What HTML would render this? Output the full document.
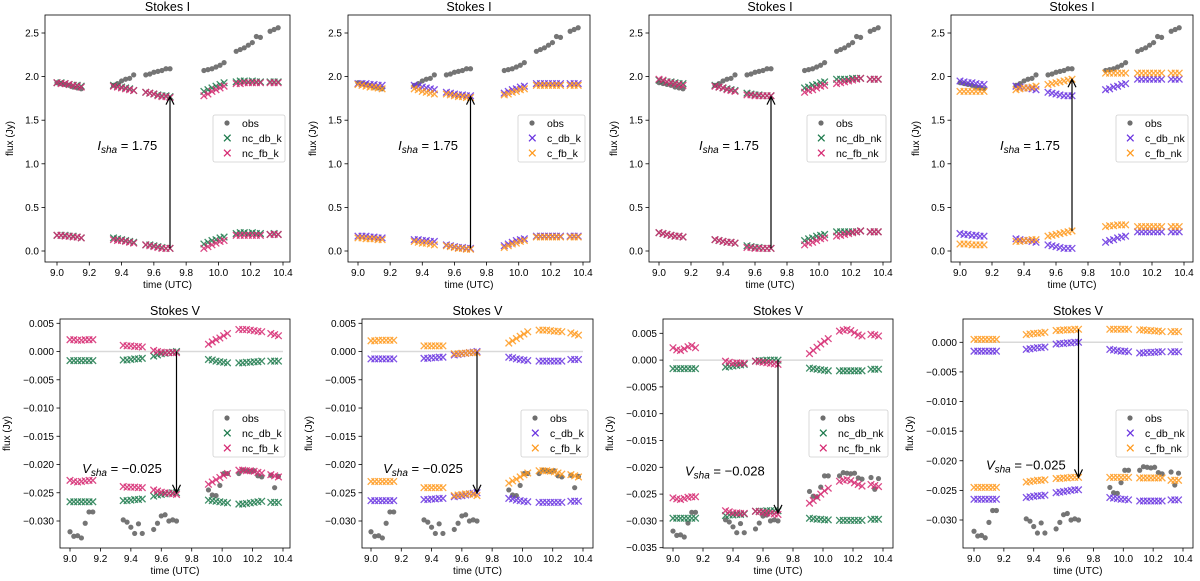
<!DOCTYPE html>
<html><head><meta charset="utf-8"><style>
html,body{margin:0;padding:0;background:#fff;}
svg{display:block;font-family:"Liberation Sans","DejaVu Sans",sans-serif;}
</style></head><body>
<svg id="fig" width="1200" height="581" viewBox="0 0 1200 581" xmlns="http://www.w3.org/2000/svg"></svg>
<script>
const times = [9.00,9.025,9.05,9.075,9.10,9.125,9.15, 9.35,9.375,9.40,9.425,9.45,9.475, 9.55,9.575,9.60,9.625,9.65,9.675,9.70, 9.91,9.935,9.96,9.985,10.01,10.035, 10.11,10.135,10.16,10.185,10.21,10.235,10.26, 10.32,10.345,10.37];
const obsI = [1.93,1.92,1.91,1.90,1.88,1.87,1.86, 1.90,1.92,1.95,1.97,1.98,2.02, 2.02,2.03,2.05,2.06,2.07,2.09,2.09, 2.07,2.08,2.09,2.11,2.13,2.16, 2.29,2.31,2.33,2.36,2.39,2.46,2.45, 2.52,2.54,2.56];
const obsV = [-0.0319,-0.0327,-0.0326,-0.0330,-0.0304,-0.0284,-0.0284, -0.0298,-0.0302,-0.0311,-0.0322,-0.0305,-0.0322, -0.0315,-0.0304,-0.0291,-0.0289,-0.0300,-0.0298,-0.0300, -0.0245,-0.0254,-0.0255,-0.0237,-0.0216,-0.0216, -0.0216,-0.0210,-0.0211,-0.0212,-0.0211,-0.0220,-0.0222, -0.0219,-0.0241,-0.0221];

const p1_db_hi = [1.93,1.93,1.92,1.91,1.90,1.90,1.89, 1.90,1.89,1.88,1.87,1.86,1.84, 1.82,1.81,1.80,1.79,1.78,1.78,1.77, 1.83,1.85,1.87,1.89,1.91,1.93, 1.94,1.95,1.95,1.94,1.95,1.94,1.94, 1.94,1.94,1.94];
const p1_db_lo = [0.18,0.18,0.18,0.17,0.17,0.16,0.15, 0.15,0.14,0.13,0.12,0.11,0.10, 0.07,0.07,0.06,0.05,0.04,0.03,0.03, 0.08,0.10,0.12,0.13,0.15,0.16, 0.20,0.21,0.21,0.20,0.21,0.20,0.20, 0.19,0.20,0.19];
const p1_fb_hi = [1.93,1.92,1.92,1.91,1.90,1.89,1.88, 1.89,1.88,1.87,1.86,1.85,1.84, 1.82,1.81,1.80,1.78,1.77,1.77,1.76, 1.78,1.80,1.83,1.85,1.87,1.89, 1.92,1.92,1.93,1.93,1.93,1.93,1.93, 1.93,1.93,1.93];
const p1_fb_lo = [0.18,0.18,0.17,0.17,0.16,0.16,0.15, 0.13,0.12,0.12,0.11,0.10,0.09, 0.07,0.06,0.05,0.04,0.03,0.03,0.03, 0.03,0.05,0.07,0.09,0.11,0.12, 0.18,0.18,0.18,0.18,0.18,0.18,0.18, 0.19,0.19,0.19];

const p2_db_hi = [1.92,1.92,1.92,1.91,1.91,1.90,1.90, 1.90,1.89,1.88,1.87,1.86,1.85, 1.82,1.81,1.80,1.79,1.79,1.78,1.78, 1.81,1.83,1.85,1.86,1.88,1.89, 1.92,1.92,1.92,1.92,1.92,1.92,1.92, 1.92,1.92,1.92];
const p2_db_lo = [0.17,0.17,0.17,0.16,0.16,0.15,0.15, 0.13,0.13,0.12,0.12,0.11,0.11, 0.07,0.06,0.05,0.04,0.04,0.03,0.03, 0.06,0.08,0.10,0.12,0.13,0.14, 0.17,0.17,0.17,0.17,0.17,0.17,0.17, 0.17,0.17,0.17];
const p2_fb_hi = [1.91,1.90,1.89,1.88,1.88,1.87,1.86, 1.86,1.85,1.83,1.82,1.81,1.80, 1.80,1.79,1.78,1.77,1.77,1.76,1.76, 1.79,1.80,1.82,1.83,1.85,1.86, 1.90,1.90,1.90,1.90,1.90,1.90,1.90, 1.90,1.90,1.90];
const p2_fb_lo = [0.15,0.15,0.14,0.14,0.14,0.13,0.13, 0.11,0.10,0.09,0.09,0.08,0.07, 0.06,0.05,0.04,0.03,0.03,0.02,0.02, 0.04,0.06,0.08,0.09,0.11,0.12, 0.16,0.16,0.16,0.16,0.16,0.16,0.16, 0.16,0.16,0.16];

const p3_db_hi = [1.96,1.95,1.94,1.94,1.93,1.92,1.92, 1.90,1.88,1.87,1.86,1.85,1.84, 1.81,1.80,1.79,1.79,1.78,1.78,1.78, 1.87,1.88,1.90,1.91,1.93,1.94, 1.97,1.97,1.97,1.97,1.98,1.98,1.98, 1.97,1.97,1.97];
const p3_db_lo = [0.21,0.20,0.19,0.18,0.17,0.17,0.16, 0.13,0.12,0.11,0.10,0.10,0.09, 0.06,0.05,0.04,0.04,0.03,0.03,0.03, 0.12,0.14,0.15,0.17,0.18,0.19, 0.22,0.22,0.22,0.22,0.22,0.22,0.23, 0.22,0.22,0.22];
const p3_fb_hi = [1.97,1.96,1.94,1.93,1.92,1.91,1.90, 1.89,1.88,1.87,1.85,1.84,1.83, 1.79,1.79,1.78,1.78,1.78,1.78,1.78, 1.82,1.84,1.85,1.87,1.89,1.90, 1.92,1.93,1.94,1.95,1.96,1.97,1.98, 1.97,1.97,1.97];
const p3_fb_lo = [0.21,0.20,0.19,0.18,0.17,0.17,0.16, 0.13,0.12,0.11,0.10,0.10,0.09, 0.04,0.04,0.03,0.03,0.03,0.03,0.03, 0.07,0.09,0.10,0.12,0.14,0.15, 0.17,0.18,0.19,0.20,0.21,0.22,0.23, 0.22,0.22,0.22];

const p4_db_hi = [1.95,1.94,1.93,1.93,1.92,1.91,1.91, 1.89,1.88,1.87,1.87,1.86,1.85, 1.82,1.81,1.80,1.79,1.78,1.78,1.78, 1.85,1.86,1.88,1.89,1.91,1.92, 1.97,1.97,1.97,1.97,1.97,1.97,1.97, 1.97,1.97,1.97];
const p4_db_lo = [0.20,0.19,0.19,0.18,0.18,0.17,0.17, 0.14,0.13,0.12,0.12,0.11,0.10, 0.07,0.06,0.05,0.04,0.03,0.03,0.03, 0.10,0.12,0.13,0.15,0.16,0.17, 0.22,0.22,0.22,0.22,0.22,0.22,0.22, 0.22,0.22,0.22];
const p4_fb_hi = [1.83,1.83,1.83,1.83,1.83,1.83,1.83, 1.85,1.86,1.87,1.87,1.88,1.89, 1.91,1.92,1.93,1.94,1.95,1.96,1.97, 2.04,2.04,2.04,2.04,2.04,2.04, 2.04,2.04,2.04,2.04,2.04,2.04,2.04, 2.04,2.04,2.04];
const p4_fb_lo = [0.08,0.08,0.08,0.07,0.07,0.07,0.07, 0.11,0.11,0.12,0.12,0.13,0.13, 0.17,0.18,0.19,0.20,0.21,0.22,0.23, 0.28,0.29,0.29,0.30,0.30,0.30, 0.28,0.28,0.28,0.28,0.28,0.28,0.28, 0.28,0.28,0.28];

const v1_db_hi = [-0.0016,-0.0016,-0.0016,-0.0016,-0.0016,-0.0016,-0.0016, -0.0015,-0.0015,-0.0014,-0.0013,-0.0013,-0.0012, -0.0008,-0.0006,-0.0004,-0.0003,-0.0002,-0.0001,0.0000, -0.0014,-0.0015,-0.0017,-0.0018,-0.0019,-0.0020, -0.0020,-0.0020,-0.0019,-0.0019,-0.0018,-0.0018,-0.0017, -0.0017,-0.0017,-0.0017];
const v1_db_lo = [-0.0266,-0.0266,-0.0266,-0.0266,-0.0266,-0.0266,-0.0266, -0.0264,-0.0264,-0.0263,-0.0262,-0.0262,-0.0261, -0.0256,-0.0254,-0.0253,-0.0252,-0.0251,-0.0250,-0.0250, -0.0263,-0.0264,-0.0265,-0.0266,-0.0267,-0.0268, -0.0270,-0.0270,-0.0269,-0.0268,-0.0267,-0.0266,-0.0265, -0.0267,-0.0267,-0.0267];
const v1_fb_hi = [0.0021,0.0021,0.0020,0.0020,0.0021,0.0021,0.0021, 0.0011,0.0010,0.0010,0.0009,0.0009,0.0008, 0.0002,0.0000,-0.0001,-0.0002,-0.0002,-0.0002,-0.0002, 0.0013,0.0017,0.0021,0.0024,0.0028,0.0032, 0.0039,0.0039,0.0039,0.0038,0.0037,0.0036,0.0035, 0.0032,0.0030,0.0028];
const v1_fb_lo = [-0.0228,-0.0230,-0.0231,-0.0230,-0.0229,-0.0228,-0.0228, -0.0239,-0.0240,-0.0240,-0.0240,-0.0241,-0.0241, -0.0245,-0.0247,-0.0249,-0.0250,-0.0251,-0.0252,-0.0253, -0.0235,-0.0231,-0.0227,-0.0223,-0.0219,-0.0216, -0.0210,-0.0210,-0.0211,-0.0211,-0.0212,-0.0214,-0.0215, -0.0218,-0.0220,-0.0222];

const v2_db_hi = [-0.0013,-0.0013,-0.0013,-0.0013,-0.0013,-0.0013,-0.0013, -0.0012,-0.0012,-0.0011,-0.0011,-0.0010,-0.0010, -0.0006,-0.0005,-0.0004,-0.0003,-0.0002,-0.0001,0.0000, -0.0010,-0.0011,-0.0013,-0.0014,-0.0015,-0.0016, -0.0017,-0.0017,-0.0017,-0.0017,-0.0017,-0.0017,-0.0017, -0.0014,-0.0014,-0.0014];
const v2_db_lo = [-0.0264,-0.0264,-0.0264,-0.0264,-0.0264,-0.0264,-0.0264, -0.0262,-0.0262,-0.0261,-0.0261,-0.0260,-0.0260, -0.0257,-0.0256,-0.0255,-0.0254,-0.0252,-0.0251,-0.0250, -0.0260,-0.0261,-0.0263,-0.0264,-0.0265,-0.0266, -0.0267,-0.0267,-0.0267,-0.0267,-0.0267,-0.0267,-0.0267, -0.0265,-0.0265,-0.0265];
const v2_fb_hi = [0.0019,0.0019,0.0020,0.0020,0.0020,0.0020,0.0020, 0.0010,0.0010,0.0010,0.0010,0.0010,0.0010, -0.0004,-0.0004,-0.0003,-0.0003,-0.0002,-0.0002,-0.0002, 0.0015,0.0019,0.0023,0.0027,0.0031,0.0035, 0.0038,0.0038,0.0038,0.0037,0.0036,0.0036,0.0035, 0.0033,0.0031,0.0029];
const v2_fb_lo = [-0.0230,-0.0230,-0.0230,-0.0230,-0.0230,-0.0230,-0.0230, -0.0241,-0.0241,-0.0241,-0.0241,-0.0241,-0.0241, -0.0255,-0.0254,-0.0253,-0.0252,-0.0252,-0.0253,-0.0255, -0.0233,-0.0229,-0.0226,-0.0222,-0.0218,-0.0215, -0.0211,-0.0211,-0.0211,-0.0212,-0.0213,-0.0215,-0.0217, -0.0218,-0.0220,-0.0222];

const v3_db_hi = [-0.0016,-0.0016,-0.0016,-0.0016,-0.0016,-0.0016,-0.0016, -0.0013,-0.0012,-0.0011,-0.0010,-0.0009,-0.0008, -0.0002,-0.0001,-0.0001,0.0000,0.0000,0.0000,0.0000, -0.0015,-0.0016,-0.0017,-0.0018,-0.0019,-0.0020, -0.0020,-0.0020,-0.0020,-0.0020,-0.0020,-0.0020,-0.0020, -0.0017,-0.0017,-0.0017];
const v3_db_lo = [-0.0295,-0.0295,-0.0295,-0.0295,-0.0295,-0.0295,-0.0295, -0.0290,-0.0289,-0.0289,-0.0288,-0.0288,-0.0287, -0.0282,-0.0282,-0.0282,-0.0281,-0.0281,-0.0281,-0.0281, -0.0295,-0.0296,-0.0297,-0.0297,-0.0298,-0.0298, -0.0299,-0.0299,-0.0299,-0.0299,-0.0299,-0.0299,-0.0299, -0.0297,-0.0297,-0.0297];
const v3_fb_hi = [0.0023,0.0019,0.0018,0.0021,0.0025,0.0027,0.0023, -0.0002,-0.0004,-0.0006,-0.0005,-0.0006,-0.0006, -0.0002,-0.0003,-0.0004,-0.0005,-0.0006,-0.0007,-0.0008, 0.0012,0.0018,0.0024,0.0030,0.0035,0.0040, 0.0054,0.0056,0.0057,0.0055,0.0051,0.0047,0.0045, 0.0048,0.0047,0.0045];
const v3_fb_lo = [-0.0257,-0.0259,-0.0260,-0.0258,-0.0256,-0.0255,-0.0255, -0.0281,-0.0283,-0.0285,-0.0285,-0.0286,-0.0286, -0.0282,-0.0283,-0.0284,-0.0285,-0.0286,-0.0287,-0.0288, -0.0267,-0.0262,-0.0256,-0.0250,-0.0244,-0.0239, -0.0226,-0.0224,-0.0223,-0.0225,-0.0229,-0.0232,-0.0235, -0.0232,-0.0234,-0.0236];

const v4_db_hi = [-0.0015,-0.0015,-0.0015,-0.0015,-0.0015,-0.0015,-0.0015, -0.0012,-0.0011,-0.0010,-0.0009,-0.0009,-0.0008, -0.0003,-0.0002,-0.0002,-0.0001,-0.0001,0.0000,0.0000, -0.0012,-0.0013,-0.0014,-0.0015,-0.0015,-0.0016, -0.0018,-0.0018,-0.0017,-0.0017,-0.0017,-0.0016,-0.0016, -0.0016,-0.0016,-0.0016];
const v4_db_lo = [-0.0265,-0.0265,-0.0265,-0.0265,-0.0265,-0.0265,-0.0265, -0.0262,-0.0261,-0.0260,-0.0259,-0.0259,-0.0258, -0.0254,-0.0253,-0.0252,-0.0251,-0.0250,-0.0249,-0.0249, -0.0262,-0.0263,-0.0264,-0.0265,-0.0265,-0.0266, -0.0268,-0.0268,-0.0268,-0.0268,-0.0268,-0.0268,-0.0268, -0.0266,-0.0266,-0.0266];
const v4_fb_hi = [0.0005,0.0005,0.0005,0.0005,0.0005,0.0005,0.0005, 0.0013,0.0014,0.0015,0.0015,0.0016,0.0017, 0.0020,0.0020,0.0021,0.0021,0.0021,0.0022,0.0022, 0.0022,0.0022,0.0022,0.0022,0.0022,0.0022, 0.0021,0.0021,0.0020,0.0020,0.0019,0.0019,0.0018, 0.0018,0.0018,0.0018];
const v4_fb_lo = [-0.0245,-0.0245,-0.0245,-0.0245,-0.0245,-0.0245,-0.0245, -0.0236,-0.0235,-0.0234,-0.0233,-0.0233,-0.0232, -0.0230,-0.0230,-0.0229,-0.0229,-0.0228,-0.0228,-0.0228, -0.0228,-0.0228,-0.0228,-0.0228,-0.0228,-0.0228, -0.0229,-0.0229,-0.0229,-0.0229,-0.0229,-0.0229,-0.0229, -0.0233,-0.0233,-0.0233];

const xTicks = [9.0,9.2,9.4,9.6,9.8,10.0,10.2,10.4];
const xTickLabels = ["9.0","9.2","9.4","9.6","9.8","10.0","10.2","10.4"];
const iTicks = [0,0.5,1.0,1.5,2.0,2.5];
const iTickLabels = ["0.0","0.5","1.0","1.5","2.0","2.5"];
const vTicksA = [0.005,0,-0.005,-0.010,-0.015,-0.020,-0.025,-0.030];
const vTicksB = [0.005,0,-0.005,-0.010,-0.015,-0.020,-0.025,-0.030,-0.035];
const vTicksC = [0,-0.005,-0.010,-0.015,-0.020,-0.025,-0.030];
const seriesNames = [["nc_db_k","nc_fb_k"],["c_db_k","c_fb_k"],["nc_db_nk","nc_fb_nk"],["c_db_nk","c_fb_nk"]];
const iShadow = [1.75,1.75,1.75,1.75];
const vShadow = [-0.025,-0.025,-0.028,-0.025];
const iArrow = [[0.03,1.77],[0.03,1.77],[0.03,1.77],[0.23,1.97]];
const vArrow = [[0.0,-0.025],[0.0,-0.025],[0.0,-0.0285],[0.0022,-0.0228]];

const NS="http://www.w3.org/2000/svg";
const svg=document.getElementById('fig');
function mk(tag,attrs,parent){const e=document.createElementNS(NS,tag);for(const k in attrs)e.setAttribute(k,attrs[k]);(parent||svg).appendChild(e);return e;}
function fmtTick(v,d){const s=Math.abs(v).toFixed(d);return (v<-1e-9?"\u2212":"")+s;}

const COL={obs:"#6e6e6e",g:"#1d7a4c",m:"#d62a72",p:"#6a35e0",o:"#ff9a1f"};
const colorPairs=[[COL.g,COL.m],[COL.p,COL.o],[COL.g,COL.m],[COL.p,COL.o]];

const topLay=[{L:45,R:290,x0:57,x1:283},{L:348,R:590,x0:358,x1:583},{L:649,R:891,x0:659,x1:883},{L:951,R:1193,x0:960,x1:1184}];
const botLay=[
 {L:60,R:290,x0:70,x1:283,va:0.005,pa:323.3,vb:-0.030,pb:521},
 {L:362,R:593,x0:371,x1:583,va:0.005,pa:323.3,vb:-0.030,pb:521},
 {L:663,R:893,x0:673,x1:883,va:0.005,pa:333.3,vb:-0.035,pb:547.7},
 {L:963,R:1193,x0:974,x1:1183,va:0.0,pa:342.3,vb:-0.030,pb:520}];

function cross(g,x,y,c){const s=3.3;
 const p=mk('path',{d:`M${x-s},${y-s}L${x+s},${y+s}M${x-s},${y+s}L${x+s},${y-s}`,stroke:c,'stroke-width':1.3,fill:'none','stroke-opacity':0.85},g);
 
 }
function dot(g,x,y){const c=mk('circle',{cx:x,cy:y,r:2.6,fill:COL.obs,'fill-opacity':0.95},g);
 
 }

function panel(i,kind){
 const isI=kind==='I';
 const lay=isI?topLay[i]:botLay[i];
 const T=isI?15:319, B=isI?262:548;
 const xs=t=>lay.x0+(t-9.0)/(1.4)*(lay.x1-lay.x0);
 const ys=isI?(v=>251-(v/2.5)*218):(v=>lay.pa+(v-lay.va)/(lay.vb-lay.va)*(lay.pb-lay.pa));
 const g=mk('g',{});
 
 
 mk('rect',{x:lay.L,y:T,width:lay.R-lay.L,height:B-T,fill:'#fff',stroke:'none'},g);
 // title
 const tt=mk('text',{x:(lay.L+lay.R)/2,y:T-4,'text-anchor':'middle','font-size':12.5,fill:'#000'},g);
 tt.textContent=isI?'Stokes I':'Stokes V';
 
 
 // x ticks
 xTicks.forEach((t,k)=>{const x=xs(t);
  mk('line',{x1:x,x2:x,y1:B,y2:B+3.5,stroke:'#000','stroke-width':0.8},g);
  const tx=mk('text',{x:x,y:B+14,'text-anchor':'middle','font-size':10,fill:'#000'},g);
  tx.textContent=xTickLabels[k];
  
  });
 const xl=mk('text',{x:(lay.L+lay.R)/2,y:B+26,'text-anchor':'middle','font-size':10,fill:'#000'},g);
 xl.textContent='time (UTC)';
 
 
 // y ticks
 const yt=isI?iTicks:(i<2?vTicksA:(i===2?vTicksB:vTicksC));
 yt.forEach((v,k)=>{const y=ys(v);
  mk('line',{x1:lay.L-3.5,x2:lay.L,y1:y,y2:y,stroke:'#000','stroke-width':0.8},g);
  const tx=mk('text',{x:lay.L-6,y:y+3.5,'text-anchor':'end','font-size':10,fill:'#000'},g);
  tx.textContent=isI?iTickLabels[k]:fmtTick(v,3);
  
  });
 const ylx=isI?lay.L-32:lay.L-50;
 const yl=mk('text',{x:ylx,y:(T+B)/2,'text-anchor':'middle','font-size':10,fill:'#000',transform:`rotate(-90 ${ylx} ${(T+B)/2})`},g);
 yl.textContent='flux (Jy)';
 
 
 // zero line
 if(!isI){const zl=mk('line',{x1:xs(9.0),x2:xs(10.4),y1:ys(0),y2:ys(0),stroke:'#d9d9d9','stroke-width':1.5},g);
  
  }
 // data
 const p=i+1;
 const arr=n=>window[(isI?'p':'v')+p+'_'+n];
 const obs=isI?obsI:obsV;
 times.forEach((t,k)=>dot(g,xs(t),ys(obs[k])));
 const [cd,cf]=colorPairs[i];
 const src={db_hi:eval((isI?'p':'v')+p+'_db_hi'),db_lo:eval((isI?'p':'v')+p+'_db_lo'),fb_hi:eval((isI?'p':'v')+p+'_fb_hi'),fb_lo:eval((isI?'p':'v')+p+'_fb_lo')};
 times.forEach((t,k)=>{cross(g,xs(t),ys(src.db_hi[k]),cd);cross(g,xs(t),ys(src.db_lo[k]),cd);});
 times.forEach((t,k)=>{cross(g,xs(t),ys(src.fb_hi[k]),cf);cross(g,xs(t),ys(src.fb_lo[k]),cf);});
 // arrow
 const a=isI?iArrow[i]:vArrow[i];
 const ax=xs(9.7),y0=ys(a[0]),y1=ys(a[1]);
 const ar=mk('g',{},g);
 
 
 mk('line',{x1:ax,x2:ax,y1:y0,y2:y1,stroke:'#000','stroke-width':1.2},ar);
 const dir=y1<y0?1:-1;
 mk('path',{d:`M${ax-4},${y1+dir*8}L${ax},${y1}L${ax+4},${y1+dir*8}`,stroke:'#000','stroke-width':1.2,fill:'none'},ar);
 // annotation text
 const tx=isI?xs(9.25):xs(9.08), ty=isI?ys(1.16):ys(-0.0215);
 const an=mk('text',{x:tx,y:ty,'font-size':13,fill:'#000'},g);
 
 
 const t1=mk('tspan',{'font-style':'italic'},an);t1.textContent=isI?'I':'V';
 const t2=mk('tspan',{'font-style':'italic','font-size':10,dy:3},an);t2.textContent='sha';
 const t3=mk('tspan',{dy:-3},an);
 t3.textContent=isI?(' = '+iShadow[i].toFixed(2)):(' = \u2212'+Math.abs(vShadow[i]).toFixed(3));
 // spines
 mk('rect',{x:lay.L,y:T,width:lay.R-lay.L,height:B-T,fill:'none',stroke:'#000','stroke-width':0.8},g);
 // legend
 const lg=mk('g',{},g);
 
 
 const lw=(i===0||i===1)?(i===0?72:67):(i===2?79:72);
 const lx=lay.R-5-lw, ly=isI?115:410;
 mk('rect',{x:lx,y:ly,width:lw,height:47,rx:2,fill:'#fff','fill-opacity':0.85,stroke:'#d0d0d0','stroke-width':0.8},lg);
 const labels=['obs',seriesNames[i][0],seriesNames[i][1]];
 labels.forEach((lab,k)=>{const yy=ly+8+k*15;
  const e=mk('g',{},lg);
  
  
  if(k===0){mk('circle',{cx:lx+14,cy:yy,r:2.6,fill:COL.obs},e);}
  else{const c=k===1?cd:cf;mk('path',{d:`M${lx+11},${yy-3.3}L${lx+17.6},${yy+3.3}M${lx+11},${yy+3.3}L${lx+17.6},${yy-3.3}`,stroke:c,'stroke-width':1.3},e);}
  const t=mk('text',{x:lx+29,y:yy+4,'font-size':10.5,fill:'#000'},e);t.textContent=lab;});
}
for(let i=0;i<4;i++){panel(i,'I');panel(i,'V');}
</script>
</body></html>
